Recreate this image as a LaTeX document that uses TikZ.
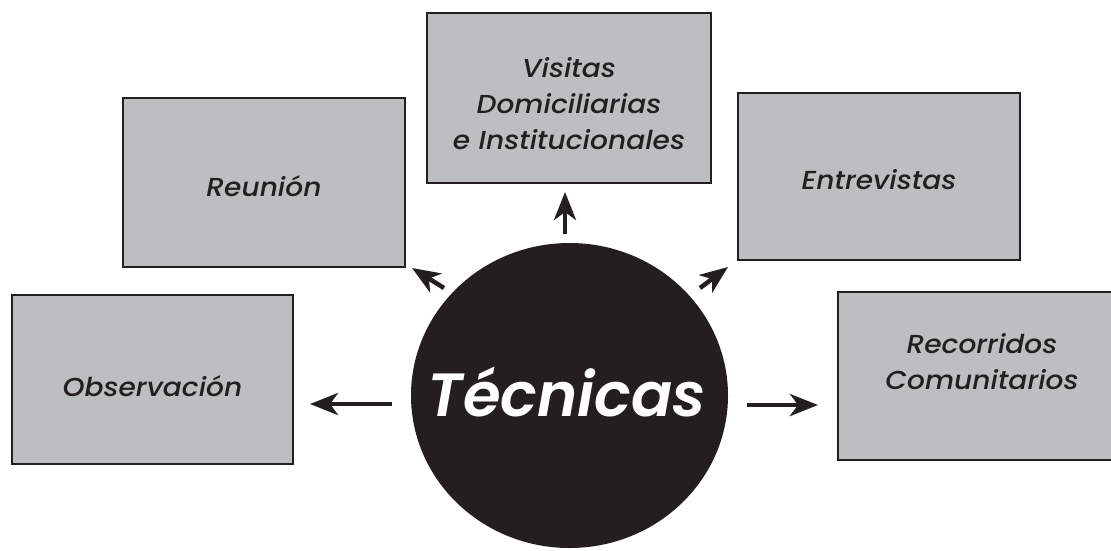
\documentclass[tikz,border=0pt]{standalone}
\usepackage{fontspec}
\newfontfamily\gothic{Poppins}[ItalicFont={Poppins Medium Italic}, FakeStretch=1.08]
\newfontfamily\gothicbig{Poppins}[ItalicFont={Poppins SemiBold Italic}]
\usetikzlibrary{arrows.meta,shapes.geometric}
\definecolor{ink}{HTML}{231F20}
\definecolor{boxgrey}{HTML}{BCBEC0}
\tikzset{
  techbox/.style={draw=ink, line width=2pt, fill=boxgrey, rectangle, inner sep=0pt},
  boxtext/.style={text=ink, font=\gothic\itshape\fontsize{26}{36}\selectfont, align=center},
  arr/.style={draw=ink, line width=4.5pt, -{Stealth[length=28pt, width=22pt, inset=8pt]}},
}
\begin{document}
\begin{tikzpicture}[x=1pt, y=-1pt]
\useasboundingbox (0,0) rectangle (1111,550);
\clip (0,0) rectangle (1111,550);
% boxes
\node[techbox, minimum width=284pt, minimum height=170pt] (vis) at (569,98) {};
\node[boxtext] (visT) at (569,104) {Visitas\\Domiciliarias\\e Institucionales};
\node[techbox, minimum width=282pt, minimum height=169pt] (reu) at (264,182.5) {};
\node[boxtext] (reuT) at (264,186) {Reunión};
\node[techbox, minimum width=282pt, minimum height=167pt] (ent) at (879,176.5) {};
\node[boxtext] (entT) at (879,180) {Entrevistas};
\node[techbox, minimum width=281pt, minimum height=169pt] (obs) at (152.5,379.5) {};
\node[boxtext] (obsT) at (152.5,386) {Observación};
\node[techbox, minimum width=290pt, minimum height=168pt] (rec) at (983,376) {};
\node[boxtext] (recT) at (982,362) {Recorridos\\Comunitarios};
% central circle
\fill[ink] (569.5,395.5) ellipse [x radius=158.5, y radius=152.5];
\node[ellipse, minimum width=317pt, minimum height=305pt] (tec) at (569.5,395.5) {};
\node[text=white, font=\gothicbig\itshape\fontsize{61}{61}\selectfont] (tecT) at (567,392) {Técnicas};
% arrow coordinates
\coordinate (aL0) at (392,404); \coordinate (aL1) at (310,404);
\coordinate (aR0) at (747,405); \coordinate (aR1) at (818,405);
\coordinate (aU0) at (565,234); \coordinate (aU1) at (565,192);
\coordinate (aUL0) at (444,288); \coordinate (aUL1) at (412,268);
\coordinate (aUR0) at (700,288); \coordinate (aUR1) at (728,267);
\draw[arr] (aL0) -- (aL1);
\draw[arr] (aR0) -- (aR1);
\draw[arr] (aU0) -- (aU1);
\draw[arr] (aUL0) -- (aUL1);
\draw[arr] (aUR0) -- (aUR1);
\end{tikzpicture}
\end{document}
